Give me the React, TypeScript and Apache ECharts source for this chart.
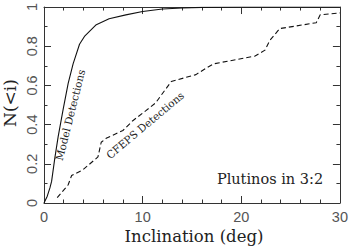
import React, { useEffect, useRef } from "react";
import * as echarts from "echarts";

const modelI = [0, 0.33, 0.6, 0.77, 1.1, 1.44, 1.95, 2.45, 2.95, 3.6, 4.1, 5.3, 6.6, 8.3, 10, 12, 14, 16, 20, 30];
const modelN = [0, 0.035, 0.077, 0.11, 0.23, 0.34, 0.48, 0.61, 0.71, 0.81, 0.85, 0.91, 0.94, 0.96, 0.977, 0.99, 0.995, 0.998, 1, 1];

const cfepsI = [1.34, 2.45, 2.8, 3.96, 5.47, 5.8, 6.3, 8, 9, 10.3, 11.3, 12.9, 15.4, 16.5, 17.2, 21.4, 22.4, 22.9, 23.9, 27.6, 28, 30];
const cfepsN = [0.027, 0.093, 0.14, 0.17, 0.235, 0.31, 0.33, 0.37, 0.42, 0.47, 0.51, 0.62, 0.655, 0.69, 0.71, 0.75, 0.78, 0.83, 0.89, 0.92, 0.96, 0.97];

const xTicks = [0, 10, 20, 30];
const yTicks = [0, 0.2, 0.4, 0.6, 0.8, 1];

const serif = "DejaVu Serif";
const sans = "Liberation Sans";

export default function App() {
  const ref = useRef<HTMLDivElement>(null);
  useEffect(() => {
    const chart = echarts.init(ref.current!, null, { renderer: "svg" });
    const axisLine = { show: true, onZero: false, lineStyle: { color: "#333", width: 1 } };
    const tick = { show: true, inside: true, length: 7, lineStyle: { color: "#333" } };
    const minor = { show: true, splitNumber: 5, length: 3.5, lineStyle: { color: "#333" } };
    const minorY = { show: true, splitNumber: 2, length: 3.5, lineStyle: { color: "#333" } };
    chart.setOption({
      animation: false,
      grid: { left: 44, right: 9, top: 1, bottom: 43, containLabel: false },
      xAxis: [
        {
          type: "value", min: 0, max: 30, interval: 10, position: "bottom",
          axisLine, axisTick: tick, minorTick: minor, splitLine: { show: false },
          axisLabel: {
            show: true, margin: 6, fontFamily: sans, fontSize: 14.5, color: "#555",
            formatter: (v: number) => (xTicks.includes(v) ? String(v) : ""),
          },
        },
        {
          type: "value", min: 0, max: 30, interval: 10, position: "top",
          axisLine, axisTick: tick, minorTick: minor, splitLine: { show: false },
          axisLabel: { show: false },
        },
      ],
      yAxis: [
        {
          type: "value", min: 0, max: 1, interval: 0.2, position: "left",
          axisLine, axisTick: tick, minorTick: minorY, splitLine: { show: false },
          axisLabel: {
            show: true, rotate: 90, margin: 5, fontFamily: sans, fontSize: 14.5, color: "#555",
            formatter: (v: number) => {
              const t = yTicks.find((y) => Math.abs(y - v) < 1e-6);
              return t === undefined ? "" : String(t);
            },
          },
        },
        {
          type: "value", min: 0, max: 1, interval: 0.2, position: "right",
          axisLine, axisTick: tick, minorTick: minorY, splitLine: { show: false },
          axisLabel: { show: false },
        },
      ],
      series: [
        {
          type: "line", data: modelI.map((x, i) => [x, modelN[i]]), showSymbol: false,
          lineStyle: { color: "#111", width: 1.1 }, smooth: false,
        },
        {
          type: "line", data: cfepsI.map((x, i) => [x, cfepsN[i]]), showSymbol: false,
          lineStyle: { color: "#111", width: 1.1, type: [5, 3] },
        },
      ],
      graphic: [
        {
          type: "text", x: 194, y: 236,
          style: { text: "Inclination (deg)", font: `16.5px "${serif}"`, fill: "#222", align: "center", verticalAlign: "middle" },
        },
        {
          type: "text", x: 10, y: 103, rotation: Math.PI / 2,
          style: { text: "N(<i)", font: `17px "${serif}"`, fill: "#222", align: "center", verticalAlign: "middle" },
        },
        {
          type: "text", x: 270, y: 179,
          style: { text: "Plutinos in 3:2", font: `14.5px "${serif}"`, fill: "#222", align: "center", verticalAlign: "middle" },
        },
        {
          type: "text", x: 70, y: 115, rotation: (76 * Math.PI) / 180,
          style: { text: "Model Detections", font: `10.5px "${serif}"`, fill: "#222", align: "center", verticalAlign: "middle" },
        },
        {
          type: "text", x: 145, y: 125, rotation: (40 * Math.PI) / 180,
          style: { text: "CFEPS Detections", font: `10.5px "${serif}"`, fill: "#222", align: "center", verticalAlign: "middle" },
        },
      ],
    });
    return () => chart.dispose();
  }, []);
  return <div ref={ref} style={{ width: 351, height: 246, position: "absolute", left: 0, top: 0 }} />;
}
